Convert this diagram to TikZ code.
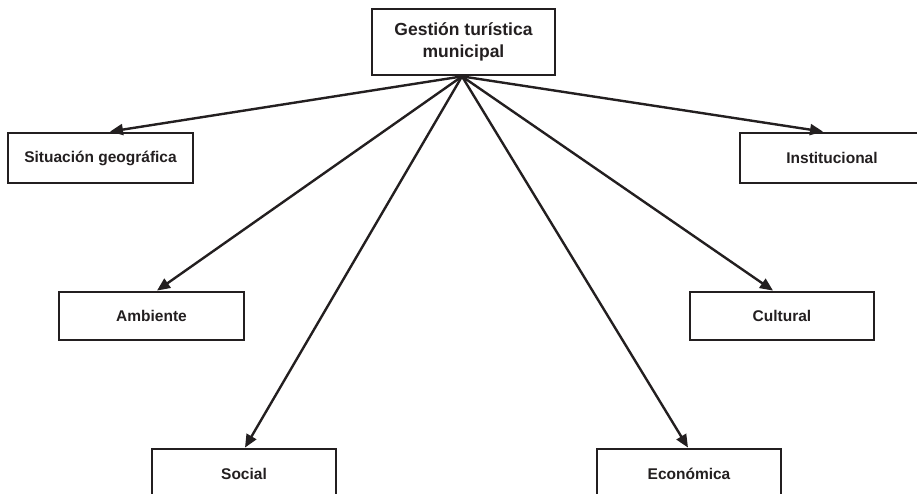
\documentclass[tikz,border=0pt]{standalone}
\usepackage{fontspec}
\setmainfont{Liberation Sans}
\usetikzlibrary{arrows.meta}
\definecolor{ink}{HTML}{231F20}
\begin{document}
\begin{tikzpicture}[x=1pt,y=-1pt,
  box/.style={draw=ink,line width=2.8pt,fill=white,text=ink,inner sep=0pt,
    font=\fontsize{15.5}{18}\selectfont\bfseries,
    minimum width=184pt,minimum height=50pt},
  conn/.style={draw=ink,line width=2.4pt,
    -{Triangle[length=13pt,width=11pt]}}]
\path[use as bounding box] (0,0) rectangle (917,494);
\clip (0,0) rectangle (917,494);
\node[box,minimum width=183pt,minimum height=66pt,align=center,
  font=\fontsize{17.5}{21.5}\selectfont\bfseries] (top) at (463.5,42)
  {Gestión turística\\municipal};
\node[box,minimum width=185pt] (sit) at (100.5,158) {Situación geográfica};
\node[box] (inst) at (832,158) {Institucional};
\node[box,minimum width=185pt,minimum height=48pt] (amb) at (151.5,316) {Ambiente};
\node[box,minimum height=48pt] (cult) at (782,316) {Cultural};
\node[box] (soc) at (244,474) {Social};
\node[box] (eco) at (689,474) {Económica};
\draw[conn] ([xshift=-1.5pt]top.south) -- ([xshift=9.5pt]sit.north);
\draw[conn] ([xshift=-1.5pt]top.south) -- ([xshift=-9pt]inst.north);
\draw[conn] ([xshift=-1.5pt]top.south) -- ([xshift=5.5pt]amb.north);
\draw[conn] ([xshift=-1.5pt]top.south) -- ([xshift=-9pt]cult.north);
\draw[conn] ([xshift=-1.5pt]top.south) -- ([xshift=1pt]soc.north);
\draw[conn] ([xshift=-1.5pt]top.south) -- ([xshift=-1pt]eco.north);
\end{tikzpicture}
\end{document}
